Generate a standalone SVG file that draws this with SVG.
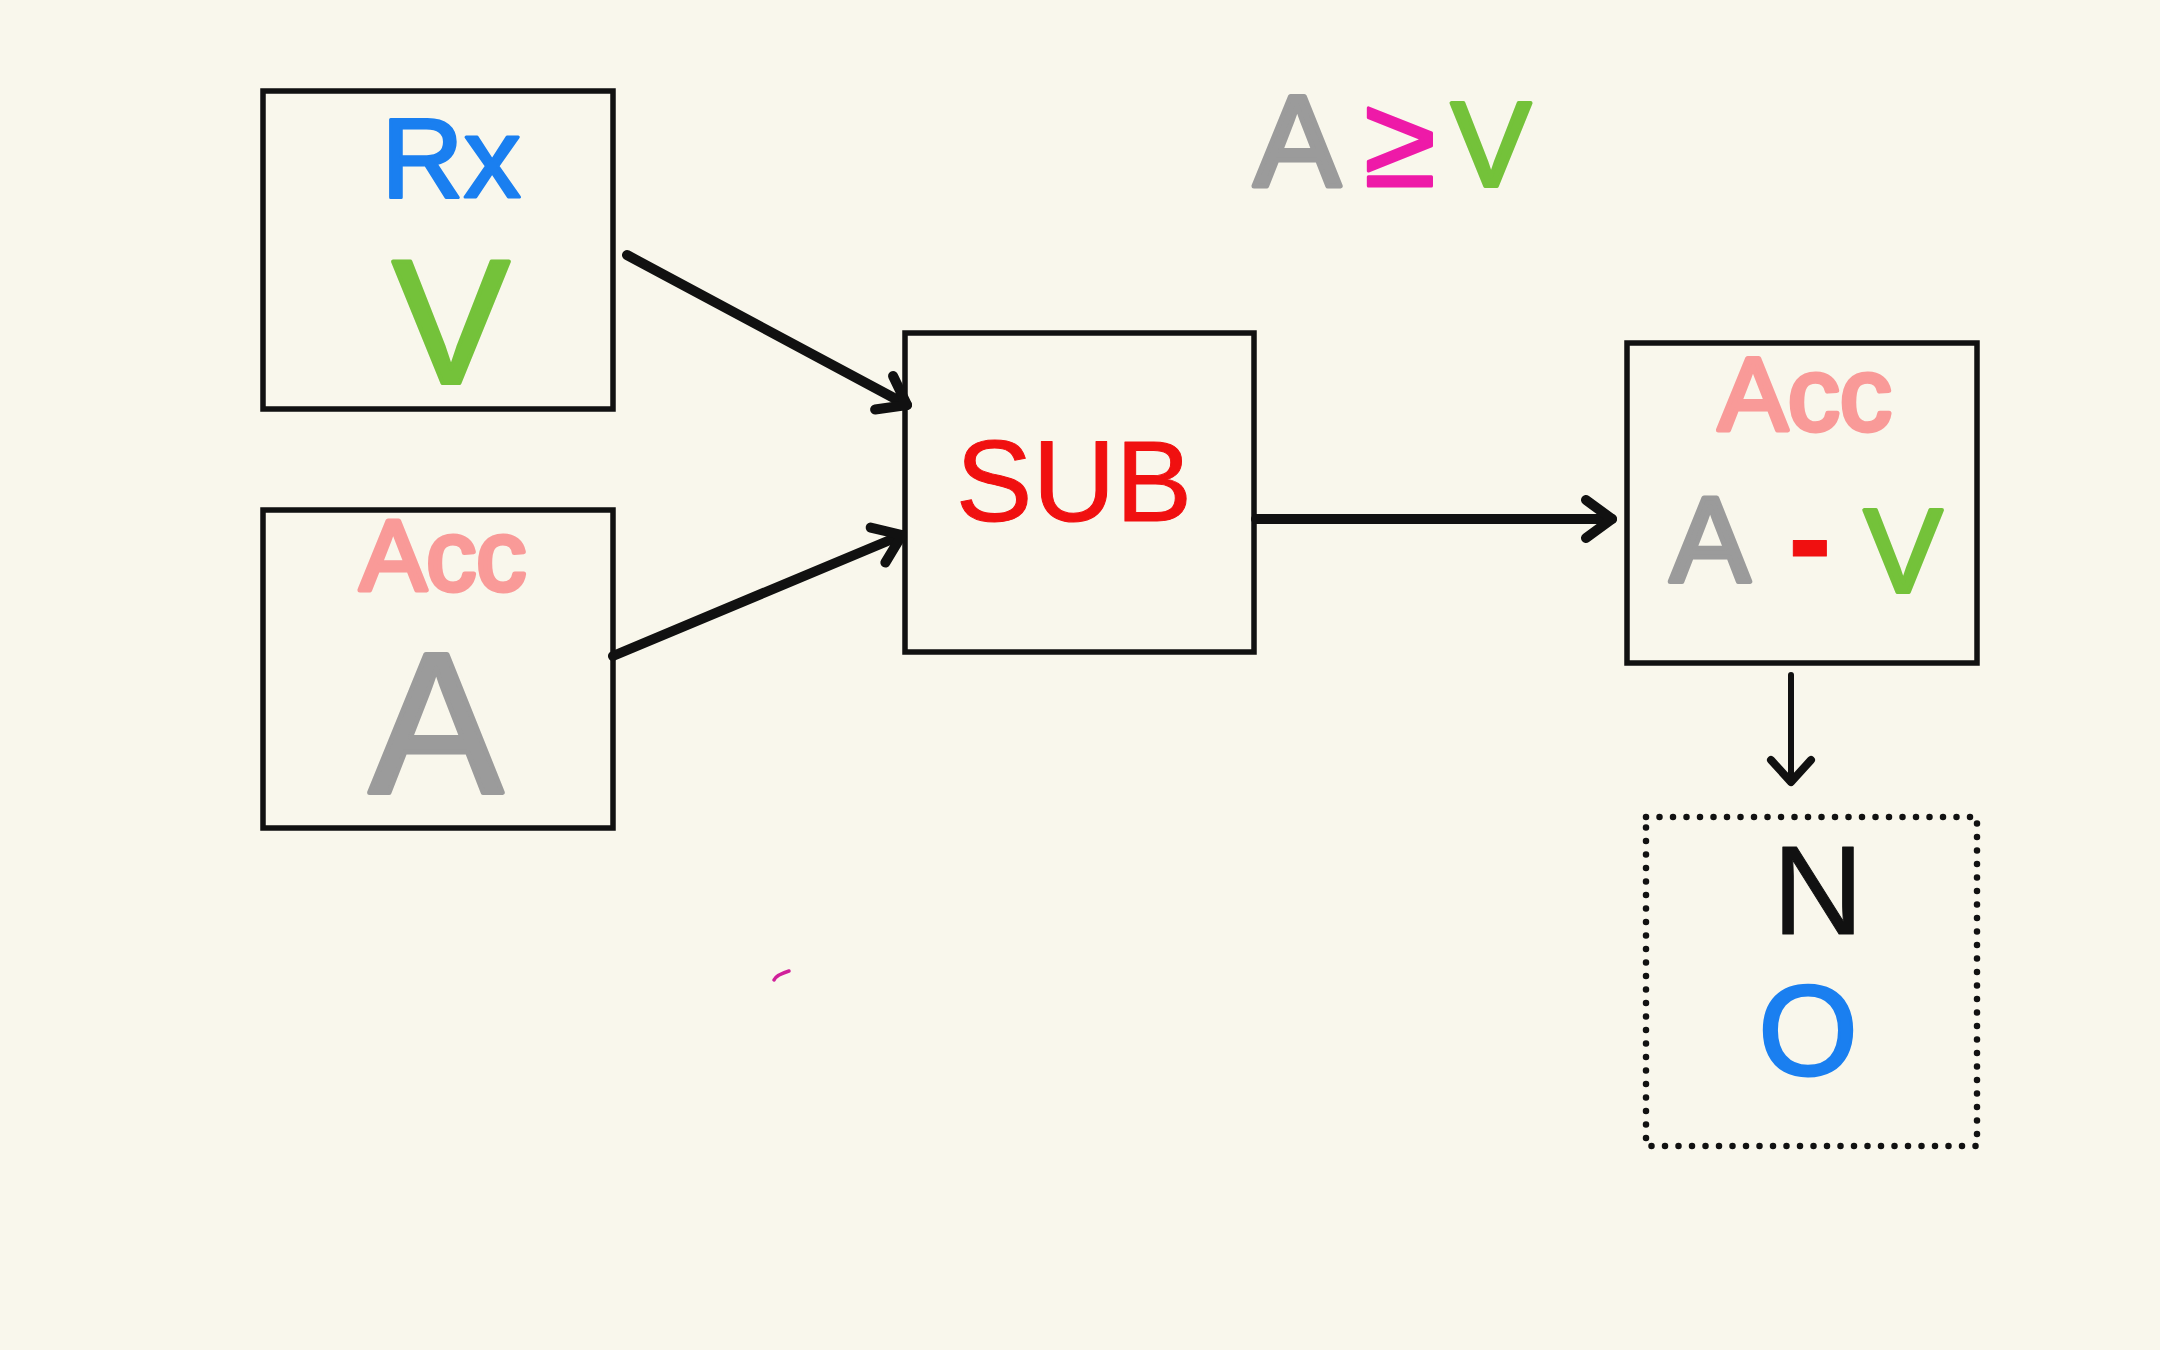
<svg xmlns="http://www.w3.org/2000/svg" width="2160" height="1350" viewBox="0 0 2160 1350">
<style>
.bg{fill:#f9f7ec}
.box{fill:none;stroke:#111;stroke-width:5.5}
.dot{fill:none;stroke:#111;stroke-width:6.5;stroke-dasharray:0 13.5;stroke-linecap:round}
.t{font-family:"Liberation Sans","DejaVu Sans",sans-serif;text-anchor:middle;stroke-linejoin:round}
.blue{fill:#1a7ff0;stroke:#1a7ff0;stroke-width:3}
.green{fill:#74c23a;stroke:#74c23a;stroke-width:4}
.gray{fill:#9b9b9b;stroke:#9b9b9b;stroke-width:5}
.pink{fill:#f99a98;stroke:#f99a98;stroke-width:5}
.red{fill:#f01010;stroke:#f01010;stroke-width:1}
.mag{fill:#ee1aa8;stroke:#ee1aa8;stroke-width:3}
.blk{fill:#111;stroke:#111;stroke-width:1}
.conn{fill:none;stroke:#111;stroke-linecap:round}
</style>
<defs>
<marker id="head" markerUnits="userSpaceOnUse" markerWidth="70" markerHeight="70" refX="0" refY="0" viewBox="-45 -35 55 70" orient="auto">
<path d="M-26,-19 L0,0 L-26,19" fill="none" stroke="#111" stroke-width="10" stroke-linecap="round" stroke-linejoin="round"/>
</marker>
<marker id="headS" markerUnits="userSpaceOnUse" markerWidth="60" markerHeight="60" refX="0" refY="0" viewBox="-40 -30 50 60" orient="auto">
<path d="M-22,-20 L0,0 L-22,20" fill="none" stroke="#111" stroke-width="8" stroke-linecap="round" stroke-linejoin="round"/>
</marker>
</defs>
<rect class="bg" x="0" y="0" width="2160" height="1350"/>

<g id="title">
<text class="t gray" x="1297" y="186" font-size="130">A</text>
<text class="t mag" x="1400" y="186" font-size="130">≥</text>
<text class="t green" x="1491" y="186" font-size="120">V</text>
</g>

<g id="node-rx">
<rect class="box" x="263" y="91" width="350" height="318"/>
<text class="t blue" x="451" y="197" font-size="114">Rx</text>
<text class="t green" x="451" y="383" font-size="176">V</text>
</g>

<g id="node-acc-a">
<rect class="box" x="263" y="510" width="350" height="318"/>
<text class="t pink" x="443" y="590" font-size="100">Acc</text>
<text class="t gray" x="436" y="792" font-size="200">A</text>
</g>

<g id="node-sub">
<rect class="box" x="905" y="333" width="349" height="319"/>
<text class="t red" x="1074" y="521" font-size="115">SUB</text>
</g>

<g id="node-acc-result">
<rect class="box" x="1627" y="343" width="350" height="320"/>
<text class="t pink" x="1805" y="430" font-size="104">Acc</text>
<text class="t gray" x="1710" y="581" font-size="120">A</text>
<text class="t red" x="1810" y="582" font-size="130" font-weight="bold">-</text>
<text class="t green" x="1903" y="592" font-size="118">V</text>
</g>

<g id="node-no">
<rect class="dot" x="1646" y="817" width="331" height="329"/>
<text class="t blk" x="1818" y="934" font-size="126">N</text>
<text class="t blue" x="1808" y="1075" font-size="128">O</text>
</g>

<g id="connectors">
<line class="conn" x1="627" y1="255" x2="907" y2="405" stroke-width="10" marker-end="url(#head)"/>
<line class="conn" x1="613" y1="656" x2="902" y2="535" stroke-width="10" marker-end="url(#head)"/>
<line class="conn" x1="1256" y1="519" x2="1612" y2="519" stroke-width="10" marker-end="url(#head)"/>
<line class="conn" x1="1791" y1="675" x2="1791" y2="782" stroke-width="6" marker-end="url(#headS)"/>
</g>

<path d="M774,980 Q776,975 789,971" fill="none" stroke="#d0209a" stroke-width="3.5" stroke-linecap="round"/>
</svg>
